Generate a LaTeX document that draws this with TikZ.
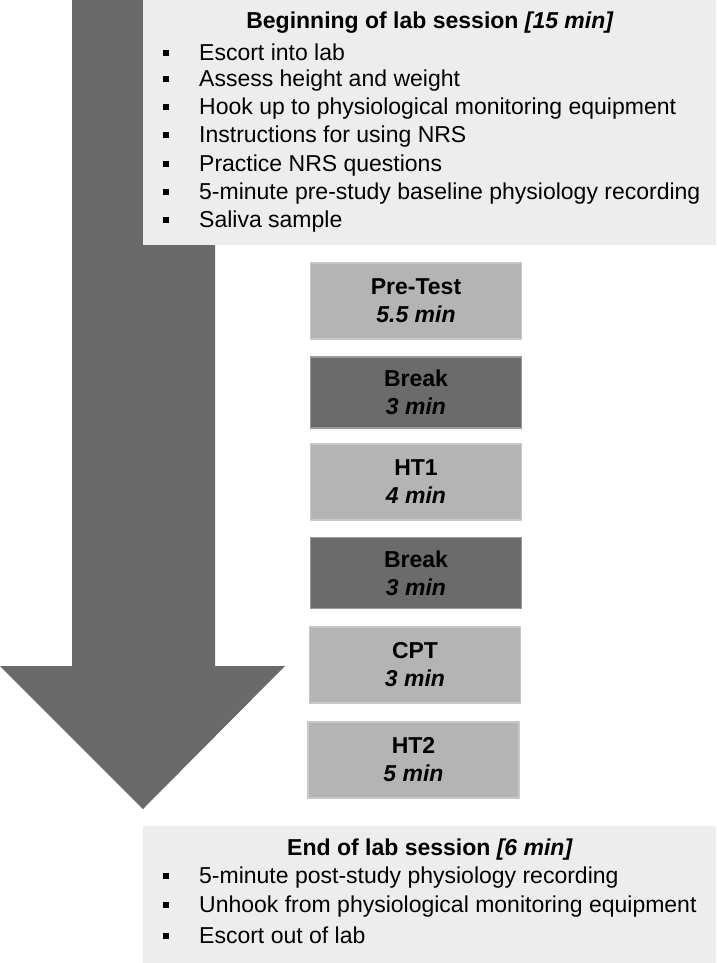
\documentclass[tikz,border=0pt]{standalone}
\usepackage{fontspec}
\setmainfont{Liberation Sans}
\usepackage{xcolor}

\definecolor{arrowgray}{HTML}{6A6A6A}
\definecolor{panelgray}{HTML}{EDEDED}
\definecolor{stagegray}{HTML}{B4B4B4}
\definecolor{stageedge}{HTML}{C8C8C8}
\definecolor{breakgray}{HTML}{6B6B6B}
\definecolor{breakedge}{HTML}{9A9A9A}

\newcommand{\bulletsq}{\makebox[36pt][l]{\rule[4.5pt]{6pt}{6pt}}}

\begin{document}
\begin{tikzpicture}[x=1pt,y=1pt]

        \tikzset{
            panel/.style={fill=panelgray, anchor=north west, inner sep=0pt},
            stage/.style={fill=stagegray, draw=stageedge, line width=1.2pt, minimum width=211pt,
                minimum height=76pt, align=center, inner sep=0pt,
                font=\fontsize{23}{28}\selectfont\bfseries},
            stage_break/.style={stage, fill=breakgray, draw=breakedge, minimum height=71pt},
            title/.style={font=\fontsize{23}{28}\selectfont\bfseries, inner sep=0pt},
            item/.style={anchor=west, inner sep=0pt, font=\fontsize{23}{28}\selectfont}
        }

        \useasboundingbox (0,0) rectangle (716,-963);

        % big arrow behind everything
        \fill[arrowgray] (72,0) -- (215,0) -- (215,-666) -- (285,-666) -- (143,-809)
            -- (0,-666) -- (72,-666) -- cycle;

        \node[panel, minimum width=573pt, minimum height=245pt] (begin) at (143,0) {};
        \node[panel, minimum width=573pt, minimum height=137pt] (end) at (143,-826) {};

        \node[title] (begintitle) at (430,-23) {Beginning of lab session \textit{[15 min]}};
        \foreach \txt [count=\i] in {Escort into lab, Assess height and weight,
            Hook up to physiological monitoring equipment, Instructions for using NRS,
            Practice NRS questions, 5-minute pre-study baseline physiology recording,
            Saliva sample} {
            \node[item] (begin\i) at (163,{-52-28.3*(\i-1)}) {\bulletsq\txt};
        }

        \node[stage] (pretest) at (416,-301) {Pre-Test\\\textit{5.5 min}};
        \node[stage_break] (break1) at (416,-392.5) {Break\\\textit{3 min}};
        \node[stage] (ht1) at (416,-482) {HT1\\\textit{4 min}};
        \node[stage_break] (break2) at (416,-573) {Break\\\textit{3 min}};
        \node[stage] (cpt) at (415,-665) {CPT\\\textit{3 min}};
        \node[stage] (ht2) at (413.5,-760) {HT2\\\textit{5 min}};

        \node[title] (endtitle) at (430,-850) {End of lab session \textit{[6 min]}};
        \foreach \txt [count=\i] in {5-minute post-study physiology recording,
            Unhook from physiological monitoring equipment, Escort out of lab} {
            \node[item] (end\i) at (163,{-878-28.5*(\i-1)}) {\bulletsq\txt};
        }

    \end{tikzpicture}
\end{document}
